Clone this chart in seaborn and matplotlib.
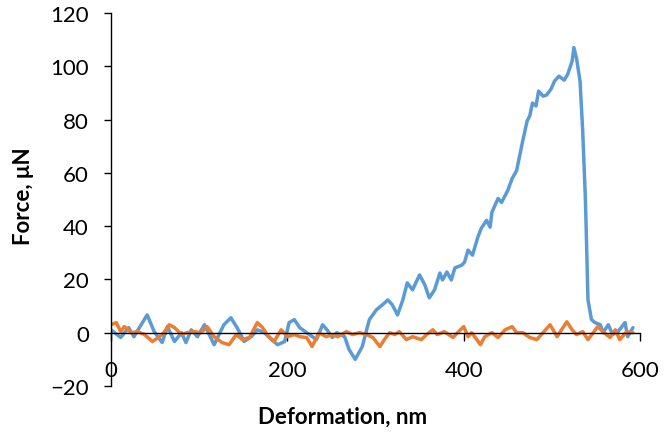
import matplotlib
matplotlib.use("Agg")
import matplotlib.pyplot as plt
import seaborn as sns

# blue curve (deformation in nm, force in uN)
blue_x = [0, 11, 20, 26, 41, 49, 58, 64, 72, 80, 85, 91, 98, 106, 117, 128, 136, 143,
          151, 159, 166, 174, 182, 189, 197, 202, 208, 214, 225, 233, 240, 245, 251,
          256, 265, 270, 277, 285, 293, 301, 308, 314, 319, 325, 331, 336, 342, 350,
          356, 361, 367, 373, 376, 381, 386, 390, 398, 401, 405, 410, 416, 420, 426,
          430, 432, 439, 443, 450, 455, 460, 464, 467, 472, 475, 478, 482, 485, 490,
          494, 499, 503, 508, 514, 518, 523, 525, 528, 532, 535, 538, 539, 541, 545,
          549, 555, 558, 564, 569, 575, 583, 586, 592]
blue_y = [1.1, -1.8, 1.9, -1.5, 6.7, 0.4, -3.7, 2.3, -3.3, 0.0, -3.7, 1.1, -1.5, 3.0,
          -4.5, 3.0, 5.6, 1.9, -3.3, -1.5, 1.1, 0.0, -2.6, -4.5, -3.3, 3.8, 4.9, 1.9,
          -0.7, -2.6, 3.0, 1.1, -1.8, 0.0, -1.5, -6.3, -10.0, -5.2, 4.9, 8.6, 10.5,
          12.3, 10.5, 6.7, 12.3, 18.7, 16.1, 21.7, 17.9, 13.1, 16.1, 22.4, 19.8, 22.8,
          19.8, 24.3, 25.4, 26.5, 31.0, 29.1, 35.8, 39.2, 42.2, 39.6, 45.2, 50.4, 48.9,
          53.4, 57.9, 60.8, 67.2, 72.0, 79.5, 81.4, 86.2, 85.1, 90.7, 88.8, 89.2, 91.4,
          94.4, 96.3, 94.8, 97.0, 101.9, 107.0, 103.0, 94.4, 75.8, 50.8, 38.5, 12.3,
          4.9, 3.8, 3.0, 0.0, 3.0, -0.7, 0.4, 3.8, -1.5, 1.9]

# orange curve
orange_x = [0, 6, 11, 15, 23, 30, 38, 47, 55, 60, 66, 72, 80, 86, 94, 102, 109, 117,
            126, 134, 142, 149, 157, 166, 172, 177, 185, 191, 193, 200, 208, 214, 222,
            228, 236, 244, 251, 257, 267, 274, 282, 290, 297, 305, 310, 316, 322, 327,
            335, 342, 352, 358, 365, 370, 378, 388, 393, 400, 405, 409, 415, 419, 424,
            432, 439, 447, 455, 460, 467, 475, 483, 490, 498, 506, 511, 517, 523, 528,
            535, 541, 547, 552, 558, 566, 572, 577, 585, 592]
orange_y = [3.0, 3.8, 0.4, 2.3, 0.0, 0.4, -0.7, -3.3, -1.5, 0.0, 3.0, 1.9, -0.7, 0.0,
            0.4, 0.0, 2.3, -1.5, -3.7, -4.5, -0.7, -2.6, -1.8, 3.8, 1.9, -0.7, -3.3, 0.0,
            1.1, -1.5, -0.7, -1.5, -1.8, -5.2, 0.0, -1.5, -0.7, -1.5, 0.4, -0.7, 0.0,
            -0.7, -1.8, -5.2, -2.6, 0.0, -0.7, 0.4, -2.6, -1.5, -2.6, -0.7, 1.1, -0.7,
            0.4, -1.8, 0.0, 2.3, -1.5, 0.0, -2.6, -4.5, -1.5, 0.0, -1.8, 1.1, 2.3, 0.0,
            0.0, -1.8, -2.6, 0.0, 3.0, -1.5, 1.1, 4.1, 1.1, -0.7, 0.4, -2.6, 0.0, 2.3,
            0.4, -1.8, 1.1, -2.6, 0.4, 0.0]

x_ticks = [0, 200, 400, 600]
y_ticks = [-20, 0, 20, 40, 60, 80, 100, 120]

sns.set_style("white")
plt.rcParams['font.family'] = ['Lato', 'DejaVu Sans']
plt.rcParams['text.color'] = 'black'
plt.rcParams['axes.labelcolor'] = 'black'
plt.rcParams['xtick.color'] = 'black'
plt.rcParams['ytick.color'] = 'black'

fig = plt.figure(figsize=(6.68, 4.35), dpi=100)
ax = fig.add_axes([111 / 668, 1 - 387 / 435, 529 / 668, 373 / 435])

line_kw = dict(linewidth=2.5, sort=False, solid_joinstyle='round', solid_capstyle='round')
sns.lineplot(x=blue_x, y=blue_y, ax=ax, color="#5B9BD5", **line_kw)
sns.lineplot(x=orange_x, y=orange_y, ax=ax, color="#ED7D31", **line_kw)

ax.set_xlim(0, 600)
ax.set_ylim(-20, 120)
ax.set_xticks(x_ticks)
ax.set_yticks(y_ticks)

ax.spines['top'].set_visible(False)
ax.spines['right'].set_visible(False)
ax.spines['bottom'].set_position(('data', 0))
for s in ['left', 'bottom']:
    ax.spines[s].set_color('black')
    ax.spines[s].set_linewidth(1.0)

ax.tick_params(axis='y', direction='out', length=5, width=1,
               labelsize=16, pad=11, left=True)
ax.tick_params(axis='x', direction='out', length=6, width=1,
               labelsize=16, pad=14, bottom=True)

ax.set_xlabel("Deformation, nm", fontsize=16, fontweight='bold', va='center')
ax.set_ylabel("Force, μN", fontsize=16, fontweight='bold', va='center')
ax.xaxis.set_label_coords(0.437, -0.08)
ax.yaxis.set_label_coords(-0.166, 0.512)

fig.savefig("out.png", dpi=100)
